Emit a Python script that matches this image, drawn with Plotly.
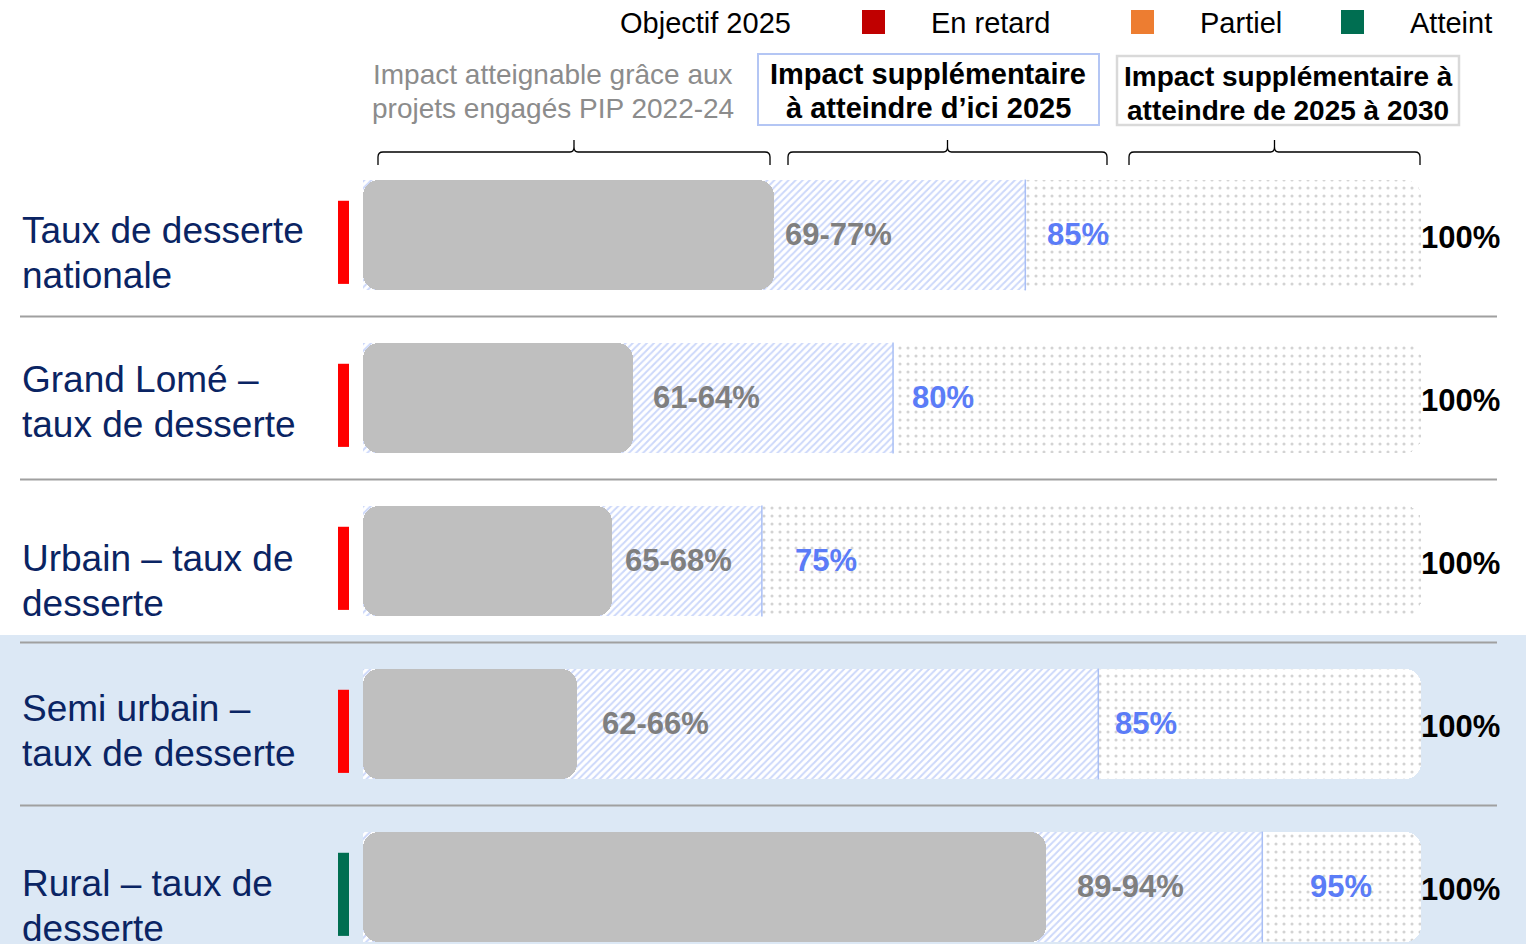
import plotly.graph_objects as go

# ---- data -------------------------------------------------------------
rows = [
    ["Taux de desserte", "nationale"],
    ["Grand Lomé –", "taux de desserte"],
    ["Urbain – taux de", "desserte"],
    ["Semi urbain –", "taux de desserte"],
    ["Rural – taux de", "desserte"],
]
# the slide does not draw the segments to scale: these are the drawn
# lengths of each segment on a 0-100 track
bar_engaged = [38.8, 25.5, 23.5, 20.2, 64.6]   # grey, projets engagés
bar_2025 = [62.6, 50.1, 37.7, 69.5, 85.0]      # hatched, up to objectif 2025
bar_total = [100, 100, 100, 100, 100]          # dotted, up to 2030

engaged_labels = ["69-77%", "61-64%", "65-68%", "62-66%", "89-94%"]
target_2025 = [85, 80, 75, 85, 95]
target_2030 = [100, 100, 100, 100, 100]
status = ["En retard", "En retard", "En retard", "En retard", "Atteint"]

legend_items = ["En retard", "Partiel", "Atteint"]
legend_colors = ["#C00000", "#ED7D31", "#006E51"]
status_colors = {"En retard": "#FF0000", "Partiel": "#ED7D31", "Atteint": "#006E51"}

header_engaged = ["Impact atteignable grâce aux", "projets engagés PIP 2022-24"]
header_2025 = ["Impact supplémentaire", "à atteindre d’ici 2025"]
header_2030 = ["Impact supplémentaire à", "atteindre de 2025 à 2030"]

# ---- styling / placement ----------------------------------------------
W, H = 1537, 944
FONT = "Liberation Sans, Arial, sans-serif"
NAVY = "#0A2463"
label_dy = [-5, -19, -3, -16, -4]         # first line of row label vs row centre (px)
engaged_dx = [9, 18, 11, 23, 29]
target_dx = [20, 17, 31, 15, 46]


def px(x):
    return x / W


def py(y):
    return 1 - y / H


ys = list(range(len(rows)))
bar_w = 0.68

fig = go.Figure()

# dotted track to 100%
fig.add_trace(go.Bar(
    y=ys, x=bar_total, orientation="h", width=bar_w,
    marker=dict(color="white", cornerradius=16, line=dict(width=0),
                pattern=dict(shape=".", fgcolor="#A8A8A8", bgcolor="white",
                             size=8, solidity=0.12)),
))
# hatched segment to the 2025 objective
fig.add_trace(go.Bar(
    y=ys, x=bar_2025, orientation="h", width=bar_w,
    marker=dict(color="white", line=dict(width=0),
                pattern=dict(shape="/", fgcolor="#9AB1F5", bgcolor="white",
                             size=5, solidity=0.4)),
))
# grey engaged segment: two overlapping pieces so both ends get rounded
left_len = [g * 0.75 for g in bar_engaged]
right_base = [g * 0.25 for g in bar_engaged]
fig.add_trace(go.Bar(
    y=ys, x=[-l for l in left_len], base=left_len, orientation="h", width=bar_w,
    marker=dict(color="#BFBFBF", cornerradius=16, line=dict(width=0)),
))
fig.add_trace(go.Bar(
    y=ys, x=[g - b for g, b in zip(bar_engaged, right_base)], base=right_base,
    orientation="h", width=bar_w,
    marker=dict(color="#BFBFBF", cornerradius=16, line=dict(width=0)),
))

shapes = []
annotations = []


def text(x, y, s, size, color, bold=False, xanchor="center", xref="paper", yref="paper",
         xshift=0, yshift=0):
    annotations.append(dict(xref=xref, yref=yref, x=x, y=y, text=s, showarrow=False,
                            xanchor=xanchor, yanchor="middle", xshift=xshift, yshift=yshift,
                            font=dict(family=FONT, size=size, color=color,
                                      weight="bold" if bold else "normal")))


# light-blue band behind the last two rows
shapes.append(dict(type="rect", xref="paper", yref="paper", x0=0, x1=px(1526),
                   y0=0, y1=py(635), fillcolor="#DCE8F5", line=dict(width=0),
                   layer="below"))

# separators between rows
for i in range(len(rows) - 1):
    shapes.append(dict(type="line", xref="paper", yref="y", x0=px(20), x1=px(1497),
                       y0=i + 0.5, y1=i + 0.5, line=dict(color="#A0A0A0", width=2),
                       layer="below"))

for i, lines in enumerate(rows):
    # status indicator
    shapes.append(dict(type="rect", xref="paper", yref="y", x0=px(338), x1=px(349),
                       y0=i - 0.21, y1=i + 0.30,
                       fillcolor=status_colors[status[i]], line=dict(width=0)))
    # thin line at the end of the 2025 segment
    shapes.append(dict(type="line", xref="x", yref="y", x0=bar_2025[i], x1=bar_2025[i],
                       y0=i - bar_w / 2, y1=i + bar_w / 2,
                       line=dict(color="#A9BFF5", width=1.5)))
    # row label, one annotation per line (slide line spacing 45px)
    for k, ln in enumerate(lines):
        text(px(20), i, ln, 37, NAVY, xanchor="left", yref="y",
             yshift=-(label_dy[i] + 45 * k))
    text(bar_engaged[i], i, engaged_labels[i], 31, "#7F7F7F", bold=True,
         xanchor="left", xref="x", yref="y", xshift=engaged_dx[i], yshift=1)
    text(bar_2025[i], i, f"{target_2025[i]}%", 31, "#5B7CF7", bold=True,
         xanchor="left", xref="x", yref="y", xshift=target_dx[i], yshift=1)
    text(bar_total[i], i, f"{target_2030[i]}%", 31, "black", bold=True,
         xanchor="left", xref="x", yref="y", xshift=-2, yshift=-2)

# legend across the top
text(px(705), py(23), "Objectif 2025", 29, "black")
for k, (lab, col) in enumerate(zip(legend_items, legend_colors)):
    x0 = [862, 1131, 1341][k]
    shapes.append(dict(type="rect", xref="paper", yref="paper", x0=px(x0), x1=px(x0 + 23),
                       y0=py(34), y1=py(10), fillcolor=col, line=dict(width=0)))
    text(px(x0 + 67), py(23), lab, 29, "black", xanchor="left")

# column headers
for k, ln in enumerate(header_engaged):
    text(px(553), py(75 + 34 * k), ln, 28, "#8C8C8C")
shapes.append(dict(type="rect", xref="paper", yref="paper", x0=px(758), x1=px(1099),
                   y0=py(125), y1=py(54), line=dict(color="#B4C6F4", width=2)))
for k, ln in enumerate(header_2025):
    text(px(928), py(74 + 34 * k), ln, 29, "black", bold=True)
shapes.append(dict(type="rect", xref="paper", yref="paper", x0=px(1117), x1=px(1459),
                   y0=py(125), y1=py(56), line=dict(color="#D9D9D9", width=2.5)))
for k, ln in enumerate(header_2030):
    text(px(1288), py(76 + 34 * k), ln, 28, "black", bold=True)


def brace(x0, x1):
    m = (x0 + x1) / 2
    pts = [("M", x0, 165), ("L", x0, 157), ("Q", x0, 152, x0 + 5, 152), ("L", m - 4, 152),
           ("Q", m, 152, m, 147), ("L", m, 140), ("M", m, 147), ("Q", m, 152, m + 4, 152),
           ("L", x1 - 5, 152), ("Q", x1, 152, x1, 157), ("L", x1, 165)]
    out = []
    for p in pts:
        cmd, coords = p[0], p[1:]
        xy = []
        for j in range(0, len(coords), 2):
            xy.append(f"{px(coords[j]):.5f},{py(coords[j + 1]):.5f}")
        out.append(cmd + " " + " ".join(xy))
    return " ".join(out)


for a, b in [(378, 770), (788, 1107), (1129, 1420)]:
    shapes.append(dict(type="path", xref="paper", yref="paper", path=brace(a, b),
                       line=dict(color="black", width=1.3)))

fig.update_layout(
    width=W, height=H,
    margin=dict(l=0, r=0, t=0, b=0),
    barmode="overlay", bargap=0,
    showlegend=False, hovermode=False,
    paper_bgcolor="white", plot_bgcolor="rgba(0,0,0,0)",
    xaxis=dict(range=[-363 / 10.58, 100 + 116 / 10.58], visible=False, fixedrange=True),
    yaxis=dict(range=[(H - 235) / 163, -235 / 163], visible=False, fixedrange=True),
    shapes=shapes, annotations=annotations,
)

fig.write_html("out.html", config={"displayModeBar": False},
               post_script="document.body.style.margin = '0';")
